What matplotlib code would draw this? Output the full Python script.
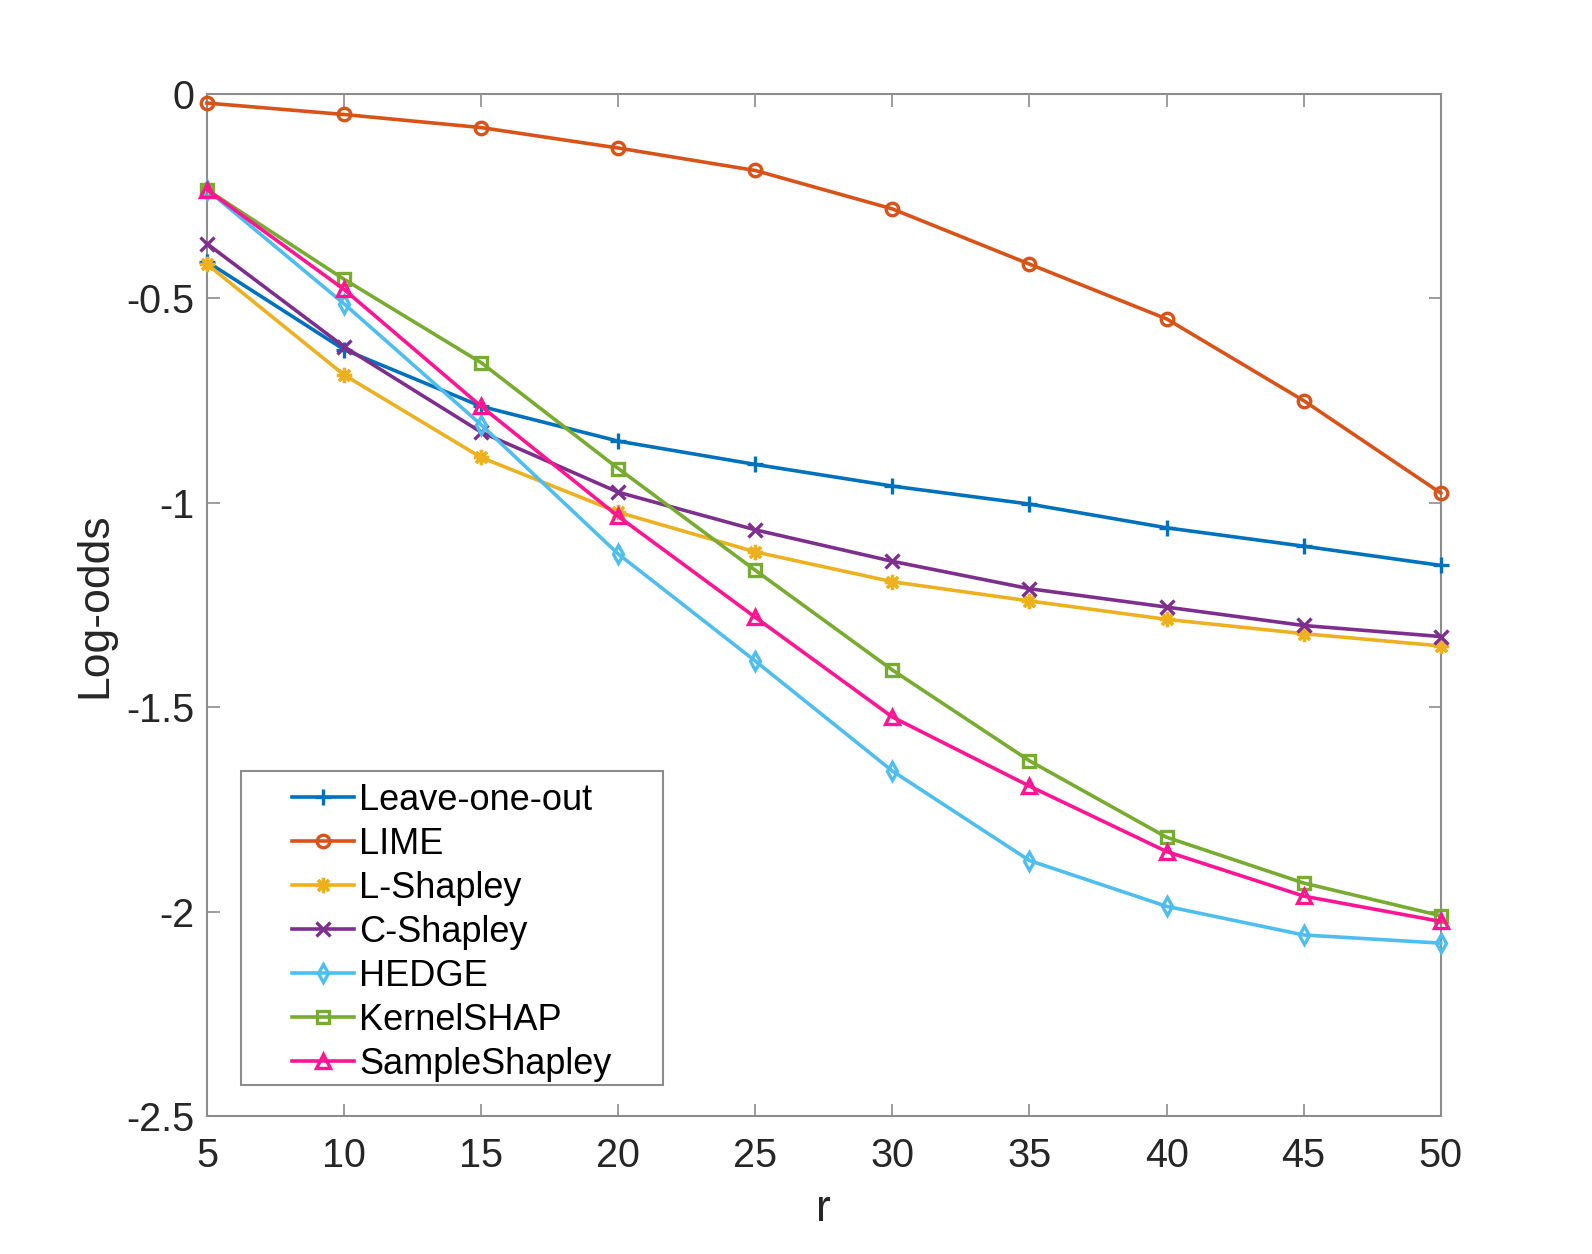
import matplotlib
matplotlib.use("Agg")
import matplotlib.pyplot as plt
from matplotlib.patches import Rectangle

plt.rcParams['font.family'] = ['Liberation Sans', 'DejaVu Sans']

# x axis values
r = [5, 10, 15, 20, 25, 30, 35, 40, 45, 50]

# log-odds per method
leave_one_out = [-0.41, -0.625, -0.764, -0.849, -0.906, -0.959, -1.003, -1.061, -1.106, -1.153]
lime = [-0.022, -0.05, -0.082, -0.132, -0.187, -0.281, -0.416, -0.55, -0.75, -0.976]
l_shapley = [-0.416, -0.687, -0.889, -1.023, -1.12, -1.193, -1.24, -1.285, -1.32, -1.35]
c_shapley = [-0.366, -0.618, -0.827, -0.974, -1.066, -1.143, -1.21, -1.255, -1.30, -1.327]
hedge = [-0.234, -0.513, -0.809, -1.125, -1.387, -1.656, -1.875, -1.987, -2.057, -2.077]
kernel_shap = [-0.234, -0.453, -0.657, -0.916, -1.165, -1.409, -1.631, -1.818, -1.93, -2.01]
sample_shapley = [-0.234, -0.478, -0.764, -1.033, -1.28, -1.524, -1.693, -1.853, -1.962, -2.024]

names = ['Leave-one-out', 'LIME', 'L-Shapley', 'C-Shapley', 'HEDGE', 'KernelSHAP', 'SampleShapley']
series = [leave_one_out, lime, l_shapley, c_shapley, hedge, kernel_shap, sample_shapley]
colors = ['#0072BD', '#D95319', '#EDB120', '#7E2F8E', '#4DBEEE', '#77AC30', '#FF1493']
markers = ['+', 'o', (8, 2, 0), 'x', 'd', 's', '^']
msizes = [12, 9, 11, 10, 9, 8, 10]

grey = '#8c8c8c'
txt = '#262626'

fig = plt.figure(figsize=(15.92, 12.54), dpi=100)
ax = fig.add_axes([0.130, 0.110, 0.775, 0.815])

for name, y, c, m, ms in zip(names, series, colors, markers, msizes):
    ax.plot(r, y, color=c, marker=m, linewidth=2.6, markersize=ms,
            markerfacecolor='none', markeredgewidth=2.4, label=name,
            clip_on=False, zorder=3)

ax.set_xlim(5, 50)
ax.set_ylim(-2.5, 0)
ax.set_xticks(r)
ax.set_yticks([-2.5, -2, -1.5, -1, -0.5, 0])
ax.set_yticklabels(['-2.5', '-2', '-1.5', '-1', '-0.5', '0'])
ax.tick_params(direction='in', top=True, right=True, labelsize=28.5,
               length=9, width=1.2, color=grey, labelcolor=txt)
ax.tick_params(axis='x', pad=15)
ax.tick_params(axis='y', pad=9)
for s in ax.spines.values():
    s.set_color(grey)
    s.set_linewidth(1.5)

ax.set_xlabel('r', fontsize=32, color=txt, labelpad=10)
ax.set_ylabel('Log-odds', fontsize=32, color=txt, labelpad=8)

# legend box (axes fraction), text centred inside it like MATLAB
box = (0.0276, 0.030, 0.342, 0.308)
ax.add_patch(Rectangle(box[:2], box[2], box[3], transform=ax.transAxes,
                       facecolor='white', edgecolor=grey, linewidth=1.5, zorder=5))
leg = ax.legend(loc='center', bbox_to_anchor=(box[0], box[1] - 0.004, box[2], box[3]),
                borderaxespad=0, fontsize=26, frameon=False,
                handlelength=1.7, handletextpad=0.15, labelspacing=0.25,
                borderpad=0)
leg.set_zorder(6)

fig.savefig('out.png', dpi=100, facecolor='white')
